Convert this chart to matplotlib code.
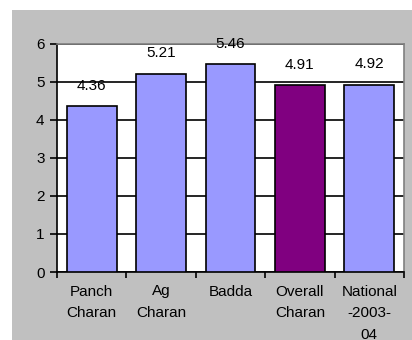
import matplotlib.pyplot as plt

categories = ["Panch\nCharan", "Ag\nCharan", "Badda", "Overall\nCharan", "National\n-2003-\n04"]
values = [4.36, 5.21, 5.46, 4.91, 4.92]
bar_colors = ["#9999FF", "#9999FF", "#9999FF", "#800080", "#9999FF"]
yticks = [0, 1, 2, 3, 4, 5, 6]

plt.rcParams['font.family'] = ['Liberation Sans', 'DejaVu Sans']

fig = plt.figure(figsize=(4.12, 3.40), dpi=100)
fig.patch.set_facecolor("white")

# grey chart area behind the plot
bg = fig.add_axes([12 / 412, 0, 1 - 12 / 412, 1 - 10 / 340], zorder=0)
bg.set_facecolor("#C0C0C0")
bg.set_xticks([])
bg.set_yticks([])
for s in bg.spines.values():
    s.set_visible(False)

ax = fig.add_axes([57 / 412, 68 / 340, (404 - 57) / 412, (272 - 43.5) / 340], zorder=1)
ax.set_facecolor("white")

x = range(len(values))
ax.bar(x, values, width=0.715, color=bar_colors, edgecolor="black", linewidth=1.2, zorder=3)

for i, v in enumerate(values):
    ax.annotate(f"{v:.2f}", (i, v), xytext=(0, 14.5), textcoords="offset points",
                ha="center", va="center", fontsize=11, zorder=4, annotation_clip=False)

ax.set_xlim(-0.5, len(values) - 0.5)
ax.set_ylim(0, 6)
ax.set_yticks(yticks)
ax.yaxis.grid(True, color="black", linewidth=1.2, zorder=1)
ax.set_axisbelow(True)

# category labels centred, tick marks between categories
ax.set_xticks(list(x))
ax.set_xticklabels(categories, fontsize=11, linespacing=1.7)
ax.tick_params(axis="x", which="major", length=0, pad=9)
ax.set_xticks([i - 0.5 for i in range(len(values) + 1)], minor=True)
ax.tick_params(axis="x", which="minor", length=4, width=1.2, direction="out")
ax.tick_params(axis="y", length=5, width=1.2, labelsize=11, pad=4)

for side in ["left", "bottom"]:
    ax.spines[side].set_color("black")
    ax.spines[side].set_linewidth(1.2)
for side in ["top", "right"]:
    ax.spines[side].set_color("#808080")
    ax.spines[side].set_linewidth(1.2)

fig.savefig("out.png", dpi=100)
